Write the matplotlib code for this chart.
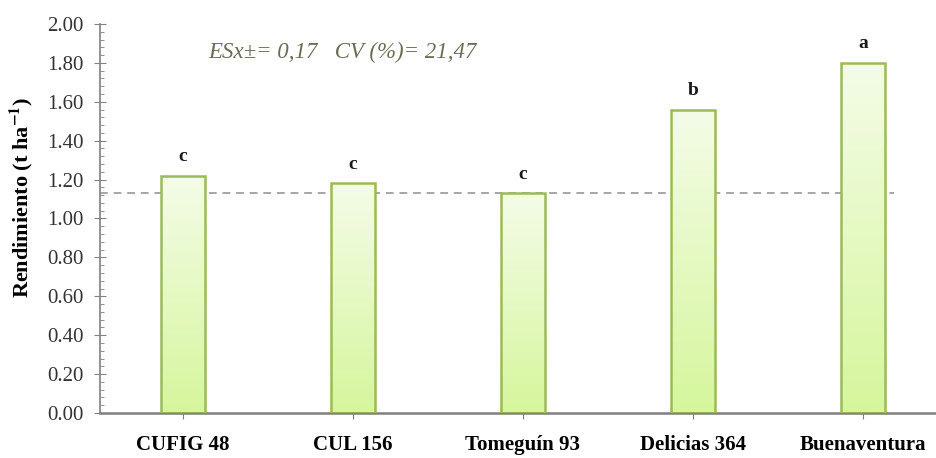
import numpy as np
import matplotlib
matplotlib.use("Agg")
import matplotlib.pyplot as plt
from matplotlib.colors import LinearSegmentedColormap

# Data
cultivars = ["CUFIG 48", "CUL 156", "Tomeguín 93", "Delicias 364", "Buenaventura"]
yields = [1.22, 1.18, 1.13, 1.56, 1.80]
letters = ["c", "c", "c", "b", "a"]
ref_line = 1.13
stats_text = "ESx±= 0,17   CV (%)= 21,47"

plt.rcParams["font.family"] = ["Liberation Serif", "DejaVu Serif"]
plt.rcParams["mathtext.fontset"] = "stix"

fig = plt.figure(figsize=(9.36, 4.58), dpi=100)
ax = fig.add_axes([0.1068, 0.0983, 0.8932, 0.8493])

x = np.arange(len(cultivars))
width = 0.26
bars = ax.bar(x, yields, width=width, facecolor="none", edgecolor="#9bbb59",
              linewidth=1.8, zorder=3)

# vertical gradient fill inside each bar
cmap = LinearSegmentedColormap.from_list("grn", ["#d6f69c", "#f4fce8"])
grad = np.linspace(0, 1, 256).reshape(-1, 1)
for b in bars:
    x0, w, h = b.get_x(), b.get_width(), b.get_height()
    im = ax.imshow(grad, cmap=cmap, origin="lower", aspect="auto",
                   extent=[x0, x0 + w, 0, h], zorder=2)
    im.set_clip_path(b)

for xi, v, lab in zip(x, yields, letters):
    ax.text(xi, v + 0.055, lab, ha="center", va="bottom", fontsize=14,
            fontweight="bold", color="#1a1a1a")

ax.axhline(ref_line, xmin=0, xmax=0.95, color="#a6a6a6", linestyle=(0, (4, 3)),
           linewidth=1.4, zorder=1)

ax.text(0.147, 1.855, stats_text, fontsize=16.5, style="italic",
        color="#6b6b55", va="center", ha="left")

ax.set_xlim(-0.488, 4.43)
ax.set_ylim(0, 2.0)
ax.set_yticks(np.arange(0, 2.01, 0.2))
ax.set_yticklabels([f"{v:.2f}" for v in np.arange(0, 2.01, 0.2)])
ax.set_yticks(np.arange(0, 2.001, 0.04), minor=True)
ax.set_xticks(x)
ax.set_xticklabels(cultivars, fontweight="bold", fontsize=15)
ax.tick_params(axis="x", length=4, color="#808080", pad=12)
ax.tick_params(axis="y", which="major", direction="inout", length=8,
               color="#808080", labelsize=15, labelcolor="#333333", pad=8)
ax.tick_params(axis="y", which="minor", direction="in", length=3, color="#808080")

for s in ["top", "right"]:
    ax.spines[s].set_visible(False)
ax.spines["left"].set_color("#808080")
ax.spines["bottom"].set_color("#808080")
ax.spines["bottom"].set_linewidth(1.8)
ax.spines["left"].set_linewidth(1.2)

ax.set_ylabel("Rendimiento (t ha$^{\\mathbf{-1}}$)", fontweight="bold", fontsize=16,
              va="center")
ax.yaxis.set_label_coords(-0.0945, 0.555)

fig.savefig("out.png", dpi=100)
